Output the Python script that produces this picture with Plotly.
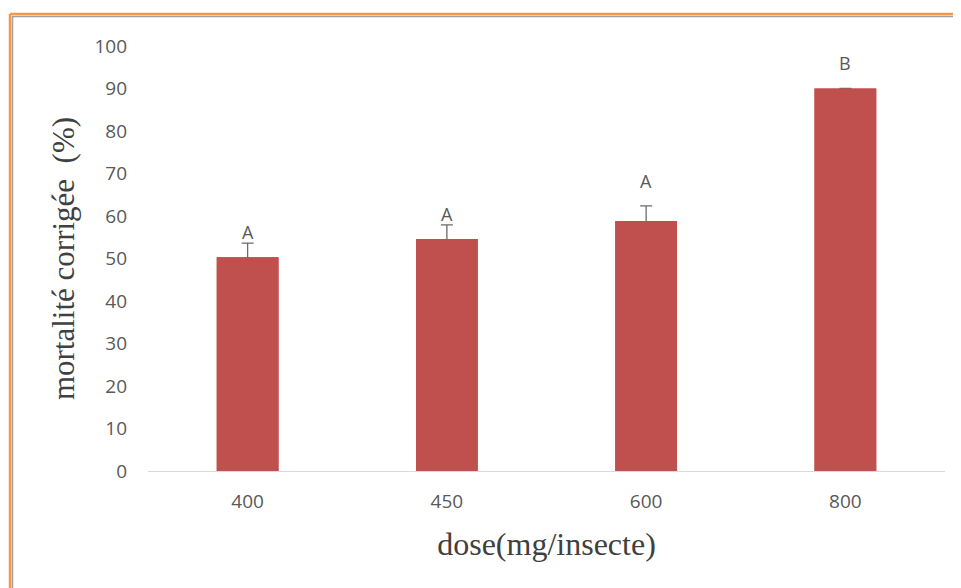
import plotly.graph_objects as go

doses = ["400", "450", "600", "800"]
mortality = [50.3, 54.6, 58.8, 90.0]
errors = [3.3, 3.3, 3.6, 0.0]
letters = ["A", "A", "A", "B"]
letter_heights = [56.3, 60.5, 68.3, 95.9]
y_ticks = [0, 10, 20, 30, 40, 50, 60, 70, 80, 90, 100]

# page body adds an 8px offset; figure coordinates below are window coords - 8
OFF = 8
W, H = 961 - OFF, 588 - OFF
L, R, T, B = 148 - OFF, 16, 46 - OFF, 588 - 471
pw, ph = W - L - R, H - T - B

def px(x):
    return (x - OFF - L) / pw

def py(y):
    return (H - B - (y - OFF)) / ph

TICKFONT = dict(family="Open Sans, Liberation Sans, Arial", size=19, color="#595959")
SERIF = "Liberation Serif, Times New Roman"
BAR_COLOR = "#C0504D"

fig = go.Figure()
# bars carrying the error bars (lower half hidden by the overlay bars)
fig.add_trace(go.Bar(
    x=doses, y=mortality,
    marker=dict(color=BAR_COLOR, line=dict(width=0)),
    error_y=dict(type="data", symmetric=True, array=errors,
                 visible=True, color="#6b6b6b", thickness=1.3, width=6),
    width=0.31, hoverinfo="skip",
))
fig.add_trace(go.Bar(
    x=doses, y=mortality,
    marker=dict(color=BAR_COLOR, line=dict(width=0)),
    width=0.31,
))

for i, (t, h) in enumerate(zip(letters, letter_heights)):
    fig.add_annotation(x=i, y=h, xref="x", yref="y", text=t, showarrow=False,
                       font=dict(family="Open Sans, Liberation Sans, Arial", size=18, color="#595959"),
                       yanchor="middle")

shapes = [
    dict(type="line", xref="paper", yref="paper", x0=px(10), x1=px(961), y0=py(14), y1=py(14),
         line=dict(color="#F79646", width=2.5)),
    dict(type="line", xref="paper", yref="paper", x0=px(10), x1=px(10), y0=py(14), y1=py(588),
         line=dict(color="#F79646", width=2.5)),
    dict(type="line", xref="paper", yref="paper", x0=px(12), x1=px(961), y0=py(16.5), y1=py(16.5),
         line=dict(color="#a0a0a0", width=1.5)),
    dict(type="line", xref="paper", yref="paper", x0=px(12.5), x1=px(12.5), y0=py(16.5), y1=py(588),
         line=dict(color="#a0a0a0", width=1.5)),
]

fig.update_layout(
    width=W, height=H,
    margin=dict(l=L, r=R, t=T, b=B),
    paper_bgcolor="white", plot_bgcolor="white",
    showlegend=False,
    barmode="overlay",
    shapes=shapes,
    xaxis=dict(
        type="category", range=[-0.5, 3.5],
        showgrid=False, showline=True, linecolor="#d9d9d9", linewidth=1,
        ticks="", tickfont=TICKFONT, ticklabelstandoff=13,
        title=dict(text="dose(mg/insecte)", standoff=19,
                   font=dict(family=SERIF, size=32, color="#404040")),
        zeroline=False,
    ),
    yaxis=dict(
        range=[0, 100], tickvals=y_ticks, showgrid=False, showline=False, zeroline=False,
        ticks="", ticklabelstandoff=20,
        tickfont=TICKFONT,
        title=dict(text="mortalité corrigée  (%)", standoff=10,
                   font=dict(family=SERIF, size=31, color="#404040")),
    ),
)

fig.write_html("out.html")
